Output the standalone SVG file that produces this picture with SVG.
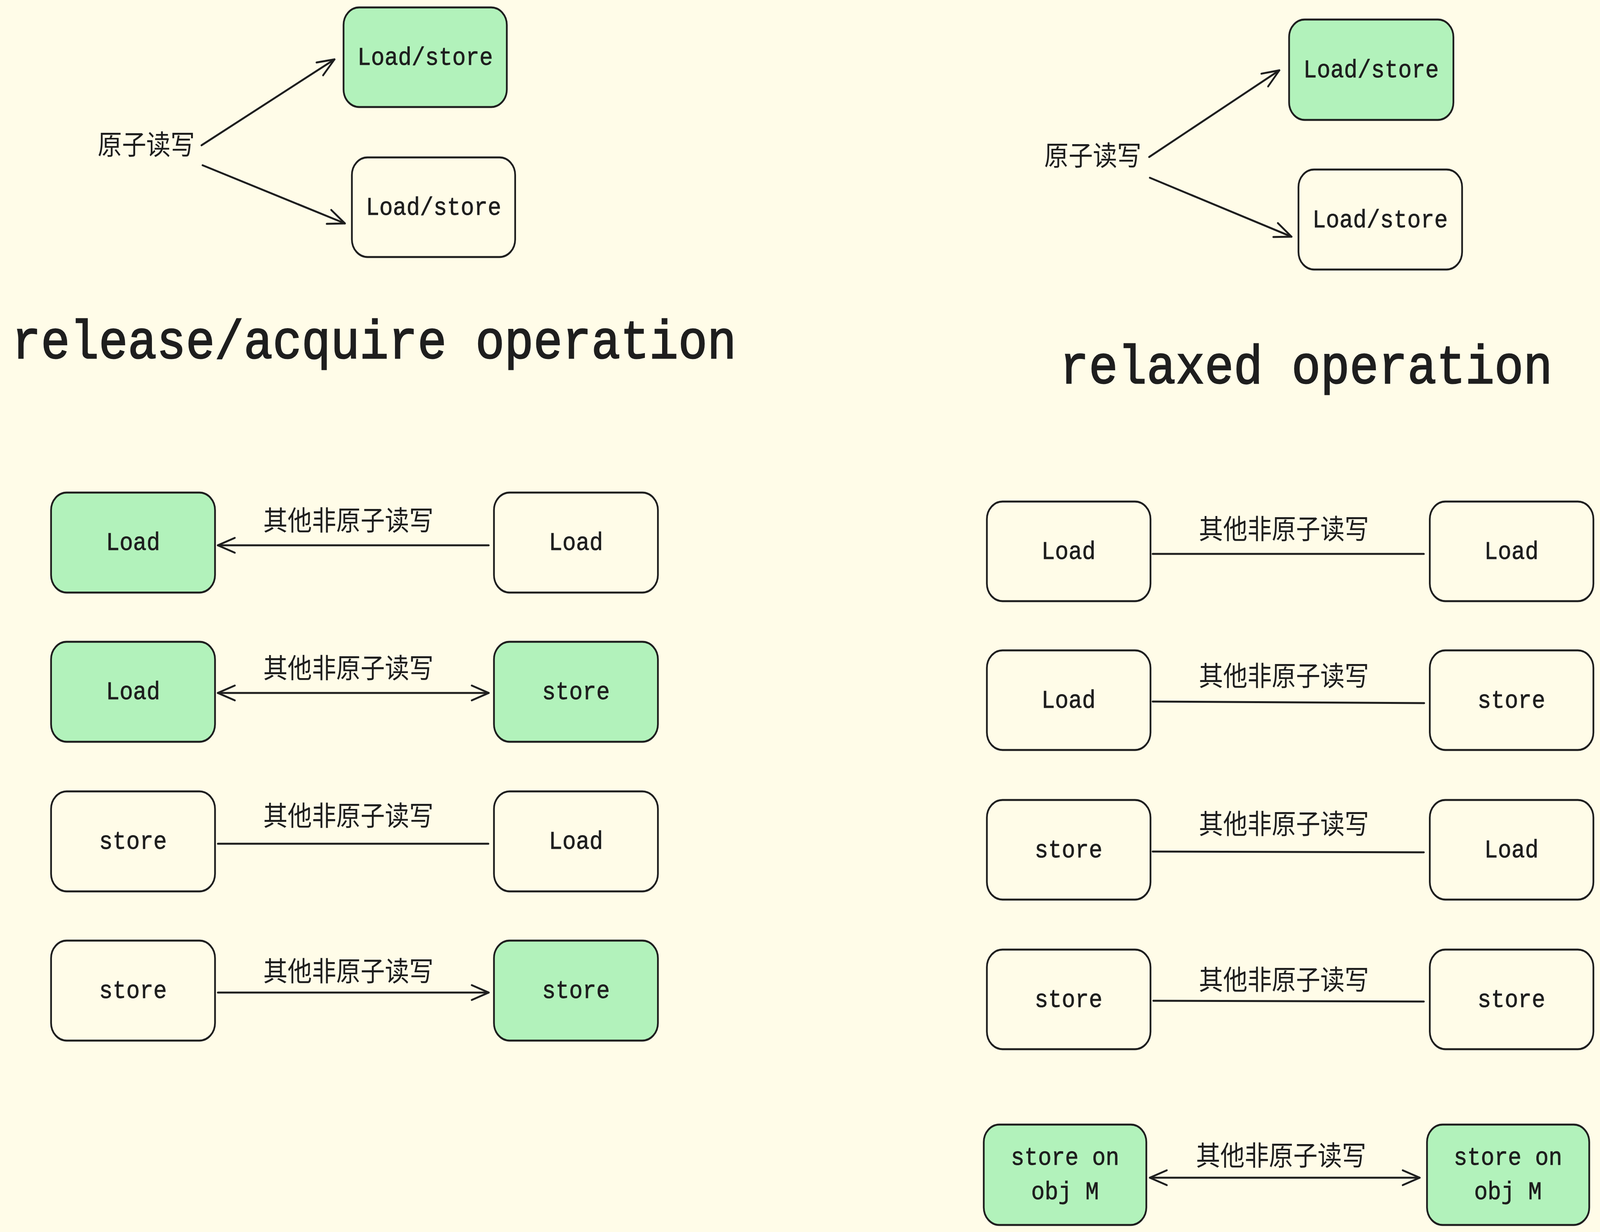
<svg xmlns="http://www.w3.org/2000/svg" width="4606" height="3154" viewBox="0 0 4606 3154" preserveAspectRatio="none">
<defs>
<style>
svg:root{width:100vw;height:100vh}
.bg{fill:#fffce8}
.box{fill:none;stroke:#1e1e1e;stroke-width:5;stroke-linejoin:round}
.g{fill:#b2f2bb}
.w{fill:none}
.t{font-family:"Liberation Mono","DejaVu Sans Mono",monospace;font-size:65px;fill:#1e1e1e;stroke:#1e1e1e;stroke-width:1;text-anchor:middle}
.c{font-family:"Noto Sans CJK SC","Noto Sans",sans-serif;font-size:70px;fill:#1e1e1e;text-anchor:middle}
.h{font-family:"Liberation Mono","DejaVu Sans Mono",monospace;font-size:139px;fill:#1e1e1e;stroke:#1e1e1e;stroke-width:3;text-anchor:middle}
.ln{fill:none;stroke:#1e1e1e;stroke-width:5;stroke-linecap:round}
.ah{fill:none;stroke:#1e1e1e;stroke-width:5;stroke-linecap:round;stroke-linejoin:round}
</style>
<marker id="arr" markerUnits="userSpaceOnUse" markerWidth="120" markerHeight="120" refX="0" refY="0" orient="auto-start-reverse" overflow="visible" viewBox="-60 -60 120 120">
<path class="ah" d="M-49,-19 L0,0 L-49,19"/>
</marker>
</defs>
<rect class="bg" x="-600" y="-600" width="5806" height="4354"/>

<g id="title-left"><text class="h" x="1077" y="917">release/acquire operation</text></g>
<g id="title-right"><text class="h" x="3760" y="981">relaxed operation</text></g>

<g id="atomic-left"><text class="c" x="421" y="396">原子读写</text></g>
<g id="atomic-right"><text class="c" x="3146" y="424">原子读写</text></g>

<g id="tl-green"><rect class="box g" x="989" y="19" width="470" height="255" rx="45"/><text class="t" x="1224" y="166">Load/store</text></g>
<g id="tl-white"><rect class="box w" x="1013" y="403" width="470" height="255" rx="45"/><text class="t" x="1248" y="550">Load/store</text></g>
<g id="tr-green"><rect class="box g" x="3711" y="50" width="473" height="257" rx="45"/><text class="t" x="3947" y="198">Load/store</text></g>
<g id="tr-white"><rect class="box w" x="3738" y="434" width="471" height="256" rx="45"/><text class="t" x="3973" y="582">Load/store</text></g>

<g id="l1a"><rect class="box g" x="147" y="1261" width="472" height="256" rx="45"/><text class="t" x="383" y="1408">Load</text></g>
<g id="l1b"><rect class="box w" x="1422" y="1261" width="472" height="256" rx="45"/><text class="t" x="1658" y="1408">Load</text></g>
<g id="l2a"><rect class="box g" x="147" y="1643" width="472" height="256" rx="45"/><text class="t" x="383" y="1790">Load</text></g>
<g id="l2b"><rect class="box g" x="1422" y="1643" width="472" height="256" rx="45"/><text class="t" x="1658" y="1790">store</text></g>
<g id="l3a"><rect class="box w" x="147" y="2026" width="472" height="256" rx="45"/><text class="t" x="383" y="2173">store</text></g>
<g id="l3b"><rect class="box w" x="1422" y="2026" width="472" height="256" rx="45"/><text class="t" x="1658" y="2173">Load</text></g>
<g id="l4a"><rect class="box w" x="147" y="2408" width="472" height="256" rx="45"/><text class="t" x="383" y="2555">store</text></g>
<g id="l4b"><rect class="box g" x="1422" y="2408" width="472" height="256" rx="45"/><text class="t" x="1658" y="2555">store</text></g>

<g id="r1a"><rect class="box w" x="2841" y="1284" width="471" height="255" rx="45"/><text class="t" x="3076" y="1431">Load</text></g>
<g id="r1b"><rect class="box w" x="4116" y="1284" width="471" height="255" rx="45"/><text class="t" x="4351" y="1431">Load</text></g>
<g id="r2a"><rect class="box w" x="2841" y="1665" width="471" height="255" rx="45"/><text class="t" x="3076" y="1812">Load</text></g>
<g id="r2b"><rect class="box w" x="4116" y="1665" width="471" height="255" rx="45"/><text class="t" x="4351" y="1812">store</text></g>
<g id="r3a"><rect class="box w" x="2841" y="2048" width="471" height="255" rx="45"/><text class="t" x="3076" y="2195">store</text></g>
<g id="r3b"><rect class="box w" x="4116" y="2048" width="471" height="255" rx="45"/><text class="t" x="4351" y="2195">Load</text></g>
<g id="r4a"><rect class="box w" x="2841" y="2431" width="471" height="255" rx="45"/><text class="t" x="3076" y="2578">store</text></g>
<g id="r4b"><rect class="box w" x="4116" y="2431" width="471" height="255" rx="45"/><text class="t" x="4351" y="2578">store</text></g>
<g id="r5a"><rect class="box g" x="2832" y="2879" width="468" height="257" rx="45"/><text class="t" x="3066" y="2982">store on</text><text class="t" x="3066" y="3070">obj M</text></g>
<g id="r5b"><rect class="box g" x="4108" y="2879" width="467" height="257" rx="45"/><text class="t" x="4341" y="2982">store on</text><text class="t" x="4341" y="3070">obj M</text></g>

<g id="labels">
<text class="c" x="1003" y="1358">其他非原子读写</text>
<text class="c" x="1003" y="1736">其他非原子读写</text>
<text class="c" x="1003" y="2114">其他非原子读写</text>
<text class="c" x="1003" y="2512">其他非原子读写</text>
<text class="c" x="3696" y="1380">其他非原子读写</text>
<text class="c" x="3696" y="1756">其他非原子读写</text>
<text class="c" x="3696" y="2135">其他非原子读写</text>
<text class="c" x="3696" y="2534">其他非原子读写</text>
<text class="c" x="3688" y="2984">其他非原子读写</text>
</g>

<g id="connectors">
<path class="ln" d="M580,372 L963,152" marker-end="url(#arr)"/>
<path class="ln" d="M583,423 L993,572" marker-end="url(#arr)"/>
<path class="ln" d="M3308,402 L3683,180" marker-end="url(#arr)"/>
<path class="ln" d="M3310,455 L3718,606" marker-end="url(#arr)"/>
<path class="ln" d="M1407,1396 L627,1396" marker-end="url(#arr)"/>
<path class="ln" d="M627,1774 L1407,1774" marker-start="url(#arr)" marker-end="url(#arr)"/>
<path class="ln" d="M627,2160 L1406,2160"/>
<path class="ln" d="M627,2541 L1407,2541" marker-end="url(#arr)"/>
<path class="ln" d="M3318,1418 L4099,1418"/>
<path class="ln" d="M3318,1796 L4100,1800"/>
<path class="ln" d="M3318,2180 L4099,2182"/>
<path class="ln" d="M3320,2562 L4099,2564"/>
<path class="ln" d="M3310,3015 L4087,3015" marker-start="url(#arr)" marker-end="url(#arr)"/>
</g>
</svg>
